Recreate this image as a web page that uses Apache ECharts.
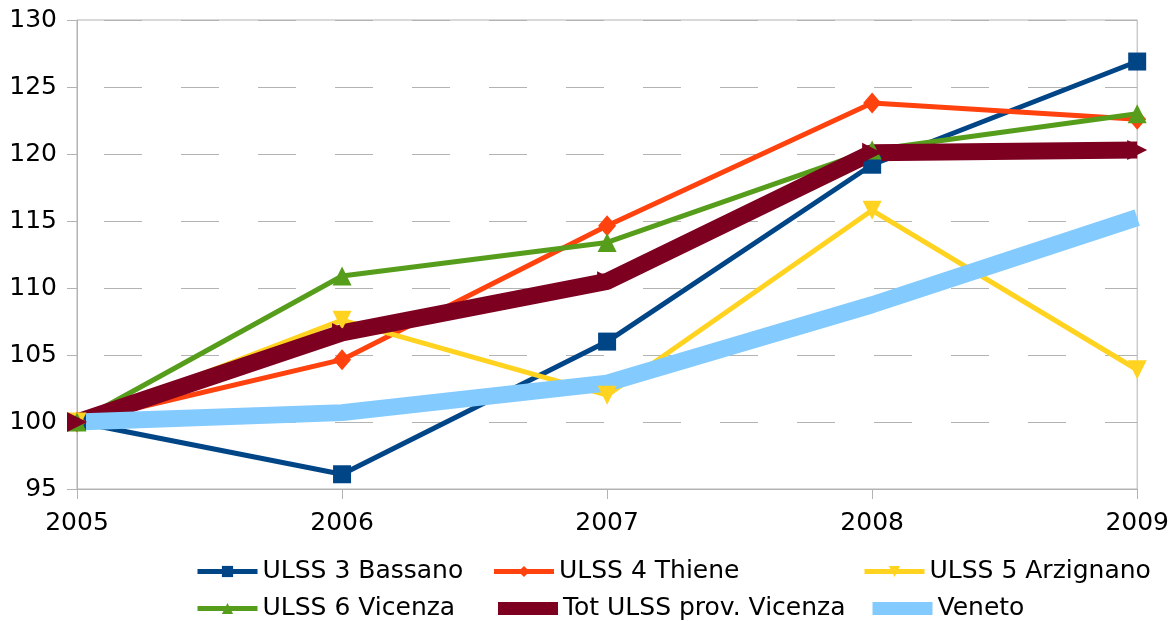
<!DOCTYPE html>
<html>
<head>
<meta charset="utf-8">
<script src="https://cdn.jsdelivr.net/npm/echarts@6/dist/echarts.min.js"></script>
<style>
html,body{margin:0;padding:0;background:#fff;}
#chart{width:1172px;height:621px;}
</style>
</head>
<body>
<div id="chart"></div>
<script>
const years = ['2005', '2006', '2007', '2008', '2009'];
const bassano = [100, 96.1, 106.0, 119.2, 126.9];
const thiene = [100, 104.65, 114.65, 123.8, 122.6];
const arzignano = [100, 107.6, 102.0, 115.8, 103.9];
const vicenza = [100, 110.9, 113.4, 120.3, 123.0];
const totVicenza = [100, 106.65, 110.5, 120.1, 120.3];
const veneto = [100, 100.7, 102.9, 108.75, 115.25];
const seriesNames = ['ULSS 3 Bassano', 'ULSS 4 Thiene', 'ULSS 5 Arzignano', 'ULSS 6 Vicenza', 'Tot ULSS prov. Vicenza', 'Veneto'];

const FONT = '"DejaVu Sans"';
const FS = 25;
const chart = echarts.init(document.getElementById('chart'));

// legend order: row 1 = Bassano, Thiene, Arzignano; row 2 = Vicenza, Tot, Veneto
const legendOrder = [0, 1, 2, 3, 4, 5];
const colTextWidths = [219, 293, 230];
const legendLineWidths = [5, 5, 5, 5, 13, 13];

const option = {
  backgroundColor: '#fff',
  animation: false,
  grid: { left: 77, right: 33, top: 20, bottom: 132, show: true, borderColor: '#b3b3b3', borderWidth: 1 },
  legend: {
    orient: 'horizontal',
    left: 195,
    top: 558,
    width: 977,
    padding: 0,
    itemWidth: 60,
    itemHeight: 14,
    itemGap: 10,
    itemTextGap: 8,
    textStyle: { fontFamily: FONT, fontSize: FS, color: '#000', lineHeight: 27 },
    data: legendOrder.map((idx, k) => ({
      name: seriesNames[idx],
      lineStyle: { width: legendLineWidths[idx] },
      textStyle: { width: colTextWidths[k % 3], fontFamily: FONT, fontSize: FS, color: '#000', lineHeight: 27 }
    }))
  },
  xAxis: {
    type: 'category',
    data: years,
    boundaryGap: false,
    axisLine: { lineStyle: { color: '#b3b3b3', width: 1 } },
    axisTick: { show: true, length: 10, lineStyle: { color: '#b3b3b3' } },
    axisLabel: { fontFamily: FONT, fontSize: FS, color: '#000', margin: 22 },
    splitLine: { show: false }
  },
  yAxis: {
    type: 'value',
    min: 95, max: 130, interval: 5,
    axisLine: { show: true, lineStyle: { color: '#b3b3b3', width: 1 } },
    axisTick: { show: true, length: 10, lineStyle: { color: '#b3b3b3' } },
    axisLabel: { fontFamily: FONT, fontSize: FS, color: '#000', margin: 20 },
    splitLine: { show: true, lineStyle: { color: '#b3b3b3', width: 1, type: [38, 39], dashOffset: 50 } }
  },
  series: [
    { name: seriesNames[0], type: 'line', data: bassano, color: '#004586',
      lineStyle: { width: 5 }, symbol: 'rect', symbolSize: 18 },
    { name: seriesNames[1], type: 'line', data: thiene, color: '#ff420e',
      lineStyle: { width: 5 }, symbol: 'diamond', symbolSize: [18, 21] },
    { name: seriesNames[2], type: 'line', data: arzignano, color: '#ffd320',
      lineStyle: { width: 5 }, symbol: 'triangle', symbolRotate: 180, symbolSize: 19 },
    { name: seriesNames[3], type: 'line', data: vicenza, color: '#579d1c',
      lineStyle: { width: 5 }, symbol: 'triangle', symbolSize: 19 },
    { name: seriesNames[4], type: 'line', data: totVicenza, color: '#7e0021',
      lineStyle: { width: 17 }, symbol: 'triangle', symbolRotate: -90, symbolSize: [20, 20] },
    { name: seriesNames[5], type: 'line', data: veneto, color: '#83caff',
      lineStyle: { width: 17 }, symbol: 'none' }
  ]
};
chart.setOption(option);
</script>
</body>
</html>
